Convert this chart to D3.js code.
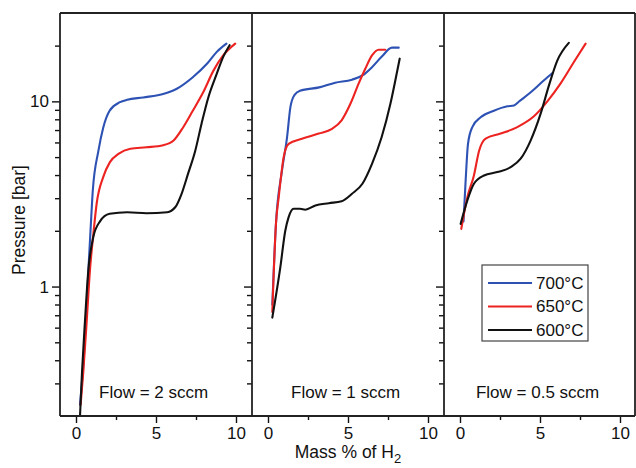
<!DOCTYPE html>
<html>
<head>
<meta charset="utf-8">
<script src="https://cdn.jsdelivr.net/npm/d3@7"></script>
<style>
  body { margin: 0; background: #fff; }
  svg { display: block; font-family: "Liberation Sans", Arial, sans-serif; }
</style>
</head>
<body>
<svg id="chart" width="636" height="468"></svg>
<script>
// Panel labels and legend
const flows = ["Flow = 2 sccm", "Flow = 1 sccm", "Flow = 0.5 sccm"];
const temps = ["700°C", "650°C", "600°C"];
const colors = ["#2d52b4", "#ec2320", "#111111"];

// Tick values
const xMajor = [0, 5, 10];
const xMinor = [2.5, 7.5];
const yMajor = [1, 10];
const yMinor = [0.3, 0.4, 0.5, 0.6, 0.7, 0.8, 0.9, 2, 3, 4, 5, 6, 7, 8, 9, 20];

// Flow = 2 sccm  [mass %, pressure bar]
const f2_700 = [[0.25,0.23],[0.5,0.43],[0.67,0.8],[0.8,1.35],[0.92,2.1],[1.05,3.3],[1.4,5.4],[1.7,7.2],[2.1,8.9],[2.75,9.9],[3.2,10.2],[4.2,10.5],[5.5,11.0],[6.3,11.7],[7.3,13.5],[8.2,16],[8.8,18.5],[9.4,20.5]];
const f2_650 = [[0.29,0.23],[0.46,0.35],[0.67,0.65],[0.87,1.22],[1.08,1.9],[1.29,2.8],[1.7,3.9],[2.12,4.7],[2.65,5.2],[3.4,5.55],[4.4,5.65],[5.45,5.8],[6.1,6.15],[6.7,7.25],[7.3,8.9],[7.95,11.2],[8.6,14.7],[9.2,17.7],[9.95,20.5]];
const f2_600 = [[0.25,0.2],[0.38,0.35],[0.56,0.65],[0.77,1.22],[1.08,1.85],[1.5,2.25],[2.1,2.47],[3.2,2.52],[4.4,2.49],[5.7,2.52],[6.2,2.68],[6.6,3.17],[7.0,4.06],[7.45,5.4],[7.85,7.6],[8.27,10.5],[8.8,14.1],[9.2,17.4],[9.6,20.1]];

// Flow = 1 sccm
const f1_700 = [[0.27,0.8],[0.5,2.2],[0.87,4.2],[1.19,6.4],[1.4,9.3],[1.65,10.8],[2.0,11.4],[3.2,11.9],[4.2,12.6],[5.25,13.1],[5.9,13.8],[6.5,15.3],[7.1,17.4],[7.75,19.5],[8.17,19.5]];
const f1_650 = [[0.27,0.73],[0.5,2.2],[0.67,3.04],[0.98,5.0],[1.29,5.9],[2.12,6.28],[3.17,6.7],[4.0,7.1],[4.6,7.9],[5.15,9.7],[5.67,12.5],[6.08,15],[6.5,17.7],[6.92,19],[7.33,19]];
const f1_600 = [[0.27,0.68],[0.77,1.27],[1.08,2.0],[1.29,2.37],[1.6,2.63],[2.0,2.63],[2.33,2.6],[2.96,2.74],[3.8,2.82],[4.6,2.89],[5.25,3.17],[5.9,3.59],[6.5,4.6],[7.1,6.4],[7.65,9.7],[7.96,13],[8.23,17]];

// Flow = 0.5 sccm
const f05_700 = [[0.22,2.25],[0.35,3.7],[0.5,5.9],[0.77,7.26],[1.29,8.2],[2.12,8.9],[2.96,9.4],[3.375,9.5],[3.69,9.98],[4.42,11.2],[5.25,13],[5.77,14.2]];
const f05_650 = [[0.08,2.05],[0.46,3.04],[0.87,3.98],[1.19,5.4],[1.6,6.3],[2.54,6.7],[3.58,7.26],[4.62,8.3],[5.46,10],[6.29,12.5],[7.12,16.3],[7.85,20.5]];
const f05_600 = [[0.04,2.18],[0.46,2.92],[0.87,3.59],[1.5,3.98],[2.33,4.15],[3.17,4.41],[3.79,4.9],[4.42,6.16],[5.04,8.58],[5.56,12.2],[6.08,16.6],[6.8,20.7]];

const panels = [
    [f2_700, f2_650, f2_600],
    [f1_700, f1_650, f1_600],
    [f05_700, f05_650, f05_600]
];

// Layout
const plotLeft = 60, plotTop = 13, plotBottom = 416, panelW = 192;
const textColor = "#111";
const svg = d3.select("#chart");

const y = d3.scaleLog().domain([0.2, 30]).range([plotBottom, plotTop]);

panels.forEach((series, p) => {
    const x0 = plotLeft + p * panelW;
    const x = d3.scaleLinear().domain([-1, 11]).range([x0, x0 + panelW]);
    const g = svg.append("g");

    // curves
    const line = d3.line()
        .x(d => x(d[0]))
        .y(d => y(d[1]))
        .curve(d3.curveMonotoneX);

    series.forEach((s, i) => {
        g.append("path")
            .attr("d", line(s))
            .attr("fill", "none")
            .attr("stroke", colors[i])
            .attr("stroke-width", 2.1)
            .attr("stroke-linejoin", "round")
            .attr("stroke-linecap", "round");
    });

    // x axis
    const xa = g.append("g").attr("transform", `translate(0,${plotBottom})`);
    xa.call(d3.axisBottom(x).tickValues(xMajor).tickSize(7).tickPadding(4).tickFormat(d3.format("d")));
    xa.append("g").call(d3.axisBottom(x).tickValues(xMinor).tickSize(4).tickFormat(""));
    xa.selectAll(".domain").remove();

    // y axis
    const ya = g.append("g").attr("transform", `translate(${x0},0)`);
    ya.call(d3.axisLeft(y).tickValues(yMajor).tickSize(8).tickPadding(3)
        .tickFormat(p == 0 ? d3.format("d") : () => ""));
    ya.append("g").call(d3.axisLeft(y).tickValues(yMinor).tickSize(5).tickFormat(""));
    ya.selectAll(".domain").remove();

    g.selectAll(".tick line").attr("stroke", "#111").attr("stroke-width", 1.4);
    g.selectAll(".tick text").attr("font-size", 17).attr("fill", textColor)
        .attr("font-family", "'Liberation Sans', Arial, sans-serif");

    // flow label
    g.append("text")
        .attr("x", x(4.85))
        .attr("y", 398)
        .attr("text-anchor", "middle")
        .attr("font-size", 17)
        .attr("fill", textColor)
        .text(flows[p]);
});

// panel frames
const frame = svg.append("g").attr("stroke", "#222").attr("stroke-width", 1.8).attr("fill", "none");
frame.append("line").attr("x1", plotLeft).attr("x2", 635).attr("y1", plotTop).attr("y2", plotTop);
frame.append("line").attr("x1", plotLeft).attr("x2", 635).attr("y1", plotBottom).attr("y2", plotBottom);
[plotLeft, plotLeft + panelW, plotLeft + 2 * panelW, 635].forEach(xx => {
    frame.append("line").attr("x1", xx).attr("x2", xx).attr("y1", plotTop).attr("y2", plotBottom);
});

// legend
const lg = svg.append("g").attr("transform", "translate(482,265)");
lg.append("rect").attr("width", 106).attr("height", 76)
    .attr("fill", "#fff").attr("stroke", "#444").attr("stroke-width", 1.2);
temps.forEach((t, i) => {
    const yy = 18 + i * 23.5;
    lg.append("line").attr("x1", 6).attr("x2", 50).attr("y1", yy).attr("y2", yy)
        .attr("stroke", colors[i]).attr("stroke-width", 2);
    lg.append("text").attr("x", 54).attr("y", yy).attr("dy", "0.35em")
        .attr("font-size", 17).attr("fill", textColor).text(t);
});

// axis titles
svg.append("text")
    .attr("transform", "translate(25,220) rotate(-90)")
    .attr("text-anchor", "middle")
    .attr("font-size", 17.5)
    .attr("fill", textColor)
    .text("Pressure [bar]");

const xt = svg.append("text")
    .attr("x", 348)
    .attr("y", 458)
    .attr("text-anchor", "middle")
    .attr("font-size", 17.5)
    .attr("fill", textColor);
xt.append("tspan").text("Mass % of H");
xt.append("tspan").attr("font-size", 13).attr("dy", 5).text("2");
</script>
</body>
</html>
